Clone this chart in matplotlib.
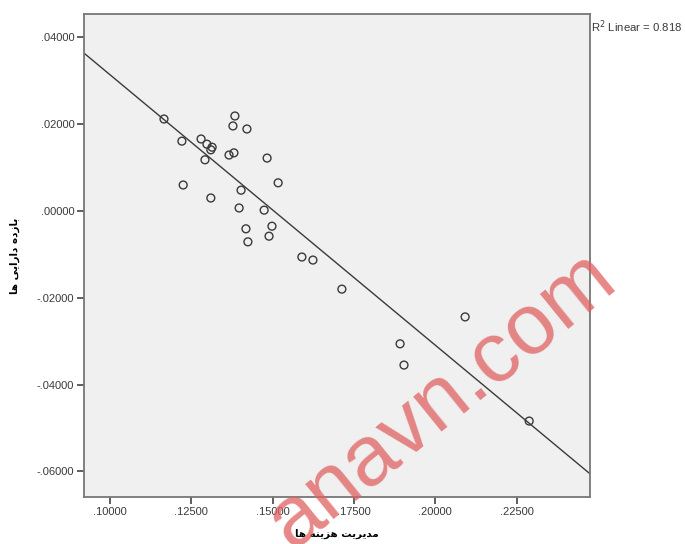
import numpy as np
import matplotlib
matplotlib.use("Agg")
import matplotlib.pyplot as plt

# Data
cost_mgmt = [0.1166, 0.1221, 0.1225, 0.1280, 0.1298, 0.1314, 0.1310, 0.1292, 0.1310,
             0.1384, 0.1378, 0.1421, 0.1366, 0.1381, 0.1483, 0.1517, 0.1403, 0.1397,
             0.1474, 0.1498, 0.1489, 0.1418, 0.1424, 0.1590, 0.1624, 0.1713, 0.1892,
             0.1904, 0.2092, 0.2289]
roa = [0.0212, 0.0161, 0.0060, 0.0166, 0.0154, 0.0147, 0.0141, 0.0118, 0.0030,
       0.0219, 0.0196, 0.0189, 0.0129, 0.0134, 0.0122, 0.0065, 0.0048, 0.0007,
       0.0002, -0.0035, -0.0058, -0.0041, -0.0071, -0.0106, -0.0113, -0.0180, -0.0306,
       -0.0355, -0.0244, -0.0484]
fit_slope = -0.623
fit_intercept = 0.0937
r2_value = 0.818
x_ticks = [0.100, 0.125, 0.150, 0.175, 0.200, 0.225]
y_ticks = [0.04, 0.02, 0.0, -0.02, -0.04, -0.06]
x_limits = [0.092, 0.2476]
y_limits = [-0.0659, 0.0454]

# Persian labels written with Arabic presentation forms (logical order, reversed for display)
y_label_logical = "\uFE91\uFE8E\uFEAF\uFEA9\uFEE9 \uFEA9\uFE8D\uFEAD\uFE8D\uFBFE\uFBFD \uFEEB\uFE8E"  # بازده دارایی ها
x_label_logical = "\uFEE3\uFEAA\uFBFE\uFEAE\uFBFE\uFE96 \uFEEB\uFEB0\uFBFE\uFEE8\uFEEA \uFEEB\uFE8E"  # مدیریت هزینه ها

def fmt(v):
    s = f"{abs(v):.5f}".lstrip("0")
    return ("-" if v < 0 else "") + s

fig = plt.figure(figsize=(6.85, 5.44), dpi=100)
ax = fig.add_axes([84/685, 1-497/544, (590-84)/685, (497-14)/544])
ax.set_facecolor("#f0f0f0")

ax.scatter(cost_mgmt, roa, s=32, facecolors="none", edgecolors="#3a3a3a", linewidths=1.0, zorder=3)
lx = np.array(x_limits)
ax.plot(lx, fit_intercept + fit_slope * lx, color="#3a3a3a", lw=1.0, zorder=2)

ax.set_xlim(*x_limits)
ax.set_ylim(*y_limits)
ax.set_xticks(x_ticks)
ax.set_xticklabels([fmt(v) for v in x_ticks])
ax.set_yticks(y_ticks)
ax.set_yticklabels([fmt(v) for v in y_ticks])
ax.tick_params(axis="both", direction="out", length=5, width=1.2, color="#444444",
               labelsize=8, labelcolor="#3a3a3a", pad=2)
for t in ax.get_xticklabels() + ax.get_yticklabels():
    t.set_family(["Liberation Sans", "DejaVu Sans"])
for sp in ax.spines.values():
    sp.set_color("#777777")
    sp.set_linewidth(1.3)

ax.set_xlabel(x_label_logical[::-1], fontsize=7.5, fontweight="bold", family="DejaVu Sans", labelpad=9)
ax.set_ylabel(y_label_logical[::-1], fontsize=7.5, fontweight="bold", family="DejaVu Sans", labelpad=12)

fig.text(591/685, 1-27/544, "R$^2$ Linear = " + f"{r2_value:.3f}", fontsize=8.2,
         color="#3a3a3a", family=["Liberation Sans", "DejaVu Sans"], va="center", ha="left")

fig.text(442/685, 1-400/544, "anavn.com", fontsize=62, color="#e06060", alpha=0.75, rotation=39,
         ha="center", va="center", family=["Liberation Sans", "DejaVu Sans"], zorder=10)

fig.savefig("out.png", dpi=100)
